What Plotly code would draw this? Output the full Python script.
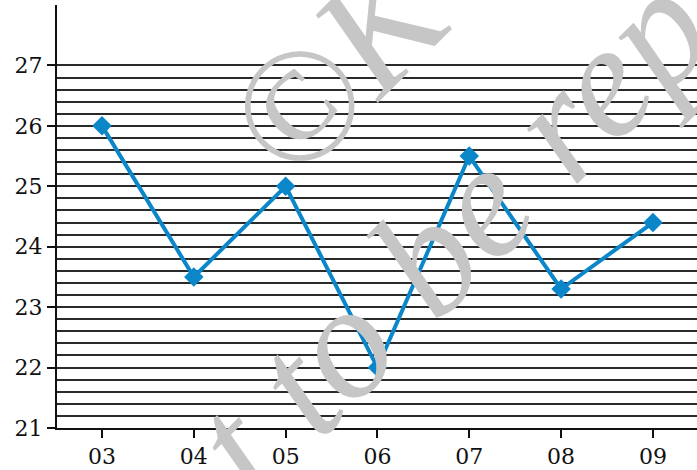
import plotly.graph_objects as go

categories = ["03", "04", "05", "06", "07", "08", "09"]
values = [26.0, 23.5, 25.0, 22.0, 25.5, 23.3, 24.4]
y_major = [21, 22, 23, 24, 25, 26, 27]
y_minor = [round(21 + 0.2 * i, 1) for i in range(1, 30) if (i % 5) != 0]

fig = go.Figure()
fig.add_trace(go.Scatter(
    x=categories, y=values, mode="lines+markers",
    line=dict(color="#0a86c9", width=4),
    marker=dict(symbol="diamond", size=15, color="#0a86c9"),
))

font = dict(family="DejaVu Serif", size=22, color="#111")
fig.update_layout(
    width=697, height=470,
    margin=dict(l=57, r=0, t=5, b=42),
    paper_bgcolor="white", plot_bgcolor="white",
    showlegend=False,
    font=font,
    xaxis=dict(
        type="category", range=[-0.49, 6.48],
        showline=True, linecolor="#111", linewidth=2,
        ticks="outside", ticklen=8, tickwidth=2, tickcolor="#111",
        showgrid=False, zeroline=False, tickfont=font,
    ),
    yaxis=dict(
        range=[21, 28], tickvals=y_major, ticktext=[str(v) for v in y_major],
        showline=True, linecolor="#111", linewidth=2,
        ticks="outside", ticklen=8, tickwidth=2, tickcolor="#111",
        showgrid=True, gridcolor="#2a2a2a", gridwidth=1.6,
        zeroline=False, tickfont=font,
        minor=dict(tickvals=y_minor, showgrid=True, gridcolor="#2a2a2a", gridwidth=1.6, ticks=""),
    ),
)

wm = dict(family="Liberation Serif", size=162, color="#c6c6c6", style="italic", weight=400)
fig.add_annotation(text="©K", xref="paper", yref="paper", x=0.439, y=0.858,
                   xanchor="center", yanchor="middle",
                   showarrow=False, textangle=-45, font=wm)
fig.add_annotation(text="t to be rep", xref="paper", yref="paper", x=0.615, y=0.46,
                   xanchor="center", yanchor="middle",
                   showarrow=False, textangle=-45, font=wm)

fig.write_html("out.html", config={"displayModeBar": False},
               post_script="document.body.style.margin='0';document.body.style.padding='0';")
